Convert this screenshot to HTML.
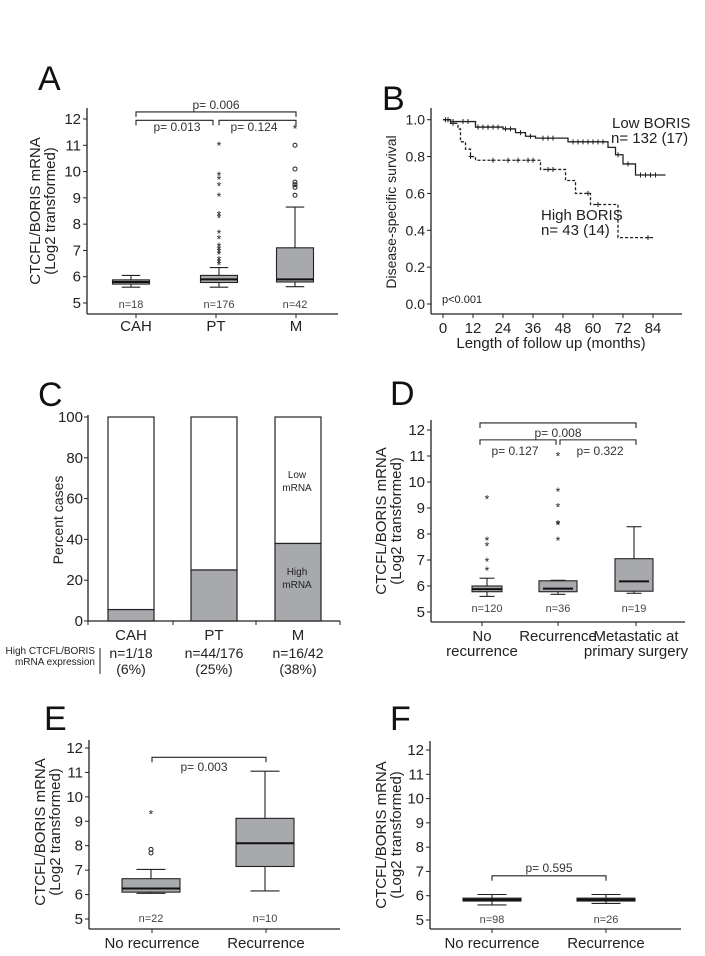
<!DOCTYPE html>
<html><head><meta charset="utf-8"><style>
html,body{margin:0;padding:0;background:#fff;}
svg{display:block;font-family:"Liberation Sans",Arial,sans-serif;}
</style></head><body>
<svg id="fig" width="705" height="956" viewBox="0 0 705 956"></svg>
<script>
// ===== Panel A data =====
const aCats=["CAH","PT","M"];
const aN=["n=18","n=176","n=42"];
const aStats=[[5.6,5.72,5.8,5.88,6.05],[5.6,5.78,5.9,6.05,6.35],[5.62,5.8,5.9,7.1,8.65]];
const aStars=[[],[11.05,9.9,9.75,9.5,9.1,8.4,8.3,7.7,7.5,7.2,7.1,7.0,6.9,6.7,6.6,6.5],[11.7]];
const aCircles=[[],[],[11.0,10.1,9.6,9.5,9.4,9.1]];
// ===== Panel B data =====
const lowT=[0,3,13,24,29,33,37,50,66,69,72,77,89];
const lowS=[1.0,0.99,0.96,0.95,0.93,0.91,0.90,0.88,0.85,0.81,0.76,0.70,0.70];
const highT=[0,3,6,7,9,11,13,39,49,53,59,70,84];
const highS=[1.0,0.98,0.95,0.88,0.84,0.80,0.78,0.73,0.67,0.60,0.54,0.36,0.36];
const lowCens=[1,2,4,8,10,14,16,18,20,22,25,27,31,35,40,42,44,52,54,56,58,60,62,64,70,74,79,81,83,85];
const highCens=[2,4,11,20,26,30,34,36,42,44,58,62,82];
const bXTicks=[0,12,24,36,48,60,72,84];
const bYTicks=[0,0.2,0.4,0.6,0.8,1.0];
// ===== Panel C data =====
const cCats=["CAH","PT","M"];
const cHigh=[5.6,25,38];
const cNLabels=["n=1/18","n=44/176","n=16/42"];
const cPctLabels=["(6%)","(25%)","(38%)"];
const cYTicks=[0,20,40,60,80,100];
// ===== Panel D data =====
const dN=["n=120","n=36","n=19"];
const dStats=[[5.6,5.78,5.88,6.0,6.3],[5.68,5.78,5.9,6.2,6.22],[5.72,5.8,6.18,7.05,8.28]];
const dStars=[[9.4,7.8,7.6,7.0,6.65],[11.05,9.7,9.1,8.45,8.4,7.8],[]];
// ===== Panel E data =====
const eCats=["No recurrence","Recurrence"];
const eN=["n=22","n=10"];
const eStats=[[6.05,6.1,6.25,6.65,7.03],[6.15,7.15,8.1,9.12,11.05]];
const eStars=[[9.35],[]];
const eCircles=[[7.85,7.7],[]];
// ===== Panel F data =====
const fN=["n=98","n=26"];
const fStats=[[5.62,5.78,5.84,5.9,6.05],[5.68,5.78,5.84,5.9,6.05]];
const yTicks=[5,6,7,8,9,10,11,12];

const NS="http://www.w3.org/2000/svg";
const svg=document.getElementById('fig');
function el(tag,attrs,parent){const e=document.createElementNS(NS,tag);for(const k in attrs)e.setAttribute(k,attrs[k]);(parent||svg).appendChild(e);return e;}
function txt(s,x,y,size,anchor,parent,extra){const t=el('text',Object.assign({x:x,y:y,'font-size':size,'text-anchor':anchor||'middle',fill:'#222'},extra||{}),parent);t.textContent=s;return t;}
function grp(name){const g=el('g',{});return g;}

function letter(s,x,y,name){const t=txt(s,x,y,34,'start',svg,{fill:'#111'});}

function yAxisLabel(g,x,yc){
  const t=el('text',{transform:`translate(${x},${yc}) rotate(-90)`,'font-size':15,'text-anchor':'middle',fill:'#222'},g);
  const a=el('tspan',{x:0,dy:0},t);a.textContent='CTCFL/BORIS mRNA';
  const b=el('tspan',{x:0,dy:15},t);b.textContent='(Log2 transformed)';
  
}

function boxPanel(o){
  const g=grp(o.name);
  const y=v=>o.y5-(v-5)*(o.y5-o.y12)/7;
  el('line',{x1:o.ax,y1:o.axTop,x2:o.ax,y2:o.axY,stroke:'#222','stroke-width':1.3},g);
  el('line',{x1:o.ax,y1:o.axY,x2:o.axR,y2:o.axY,stroke:'#222','stroke-width':1.3},g);
  yTicks.forEach(v=>{el('line',{x1:o.ax-4,y1:y(v),x2:o.ax,y2:y(v),stroke:'#222'},g);
    const t=txt(String(v),o.ax-6,y(v)+5,15,'end',g);});
  o.xs.forEach((cx,i)=>{
    el('line',{x1:cx,y1:o.axY,x2:cx,y2:o.axY+4,stroke:'#222'},g);
    const s=o.stats[i],bx=o.bx[i],w=o.bw;
    const bg=grp('box-'+(i+1));g.appendChild(bg);
    el('line',{x1:bx,y1:y(s[0]),x2:bx,y2:y(s[4]),stroke:'#222','stroke-width':1.1},bg);
    el('line',{x1:bx-w/4,y1:y(s[0]),x2:bx+w/4,y2:y(s[0]),stroke:'#222','stroke-width':1.1},bg);
    el('line',{x1:bx-w/4,y1:y(s[4]),x2:bx+w/4,y2:y(s[4]),stroke:'#222','stroke-width':1.1},bg);
    el('rect',{x:bx-w/2,y:y(s[3]),width:w,height:Math.max(1,y(s[1])-y(s[3])),fill:'#a7a9ac',stroke:'#222','stroke-width':1.1},bg);
    el('line',{x1:bx-w/2,y1:y(s[2]),x2:bx+w/2,y2:y(s[2]),stroke:'#111','stroke-width':2},bg);
    (o.stars&&o.stars[i]||[]).forEach(v=>{const t=txt('*',bx,y(v)+6,12,'middle',bg,{fill:'#222'});});
    (o.circles&&o.circles[i]||[]).forEach(v=>{el('circle',{cx:bx,cy:y(v),r:2,fill:'none',stroke:'#222','stroke-width':1},bg);});
    const nt=txt(o.n[i],bx,o.nY,11,'middle',g,{fill:'#444'});
  });
  (o.brackets||[]).forEach(b=>{
    const by=y(b.v);
    el('path',{d:`M${b.x1},${by+5}V${by}H${b.x2}V${by+5}`,fill:'none',stroke:'#222','stroke-width':1.1},g);
    const t=txt(b.label,b.tx,b.ty,12,'middle',g,{fill:'#333'});
  });
  return {g,y};
}

// ---- Panel A ----
letter('A',38,90,'panel-a-label');
let A=boxPanel({name:'panel-a',ax:87,axTop:108,axY:314,axR:338,y5:303,y12:119,xs:[136,216,296],bx:[131,219,295],bw:37,
  stats:aStats,stars:aStars,circles:aCircles,n:aN,nY:308,
  brackets:[{v:12.27,x1:136,x2:296,label:'p= 0.006',tx:216,ty:109},{v:11.95,x1:136,x2:213,label:'p= 0.013',tx:177,ty:131},{v:11.95,x1:219,x2:296,label:'p= 0.124',tx:254,ty:131}]});
yAxisLabel(A.g,40,211);
aCats.forEach((c,i)=>{const t=txt(c,[136,216,296][i],331,15,'middle',A.g);});

// ---- Panel B ----
letter('B',382,110,'panel-b-label');
(function(){
  const g=grp('panel-b');
  const x=m=>443+m*2.5, y=s=>304-s*184.3;
  el('line',{x1:431,y1:108,x2:431,y2:314,stroke:'#222','stroke-width':1.3},g);
  el('line',{x1:431,y1:314,x2:682,y2:314,stroke:'#222','stroke-width':1.3},g);
  bYTicks.forEach(v=>{el('line',{x1:427,y1:y(v),x2:431,y2:y(v),stroke:'#222'},g);
    const t=txt(v.toFixed(1),425,y(v)+5,14,'end',g);});
  bXTicks.forEach(v=>{el('line',{x1:x(v),y1:314,x2:x(v),y2:318,stroke:'#222'},g);
    const t=txt(String(v),x(v),333,15,'middle',g);});
  const yt=el('text',{transform:'translate(396,212) rotate(-90)','font-size':14,'text-anchor':'middle',fill:'#222'},g);yt.textContent='Disease-specific survival';
  
  const xt=txt('Length of follow up (months)',551,348,15,'middle',g);
  function stepPath(T,S){let d=`M${x(T[0])},${y(S[0])}`;for(let i=1;i<T.length;i++){d+=`H${x(T[i])}V${y(S[i])}`;}return d;}
  function survAt(T,S,m){let s=S[0];for(let i=0;i<T.length;i++)if(T[i]<=m)s=S[i];return s;}
  const lp=el('path',{d:stepPath(lowT,lowS),fill:'none',stroke:'#222','stroke-width':1.3},g);
  
  const hp=el('path',{d:stepPath(highT,highS),fill:'none',stroke:'#222','stroke-width':1.3,'stroke-dasharray':'3,2'},g);
  
  lowCens.forEach(m=>{const s=survAt(lowT,lowS,m);el('path',{d:`M${x(m)},${y(s)-2.5}v5M${x(m)-2},${y(s)}h4`,stroke:'#222','stroke-width':1},g);});
  highCens.forEach(m=>{const s=survAt(highT,highS,m);el('path',{d:`M${x(m)},${y(s)-2.5}v5M${x(m)-2},${y(s)}h4`,stroke:'#222','stroke-width':1},g);});
  [['Low BORIS',612,128],['n= 132 (17)',611,143],['High BORIS',541,220],['n= 43 (14)',541,235]].forEach(a=>{const t=txt(a[0],a[1],a[2],15,'start',g);});
  const p=txt('p<0.001',442,303,11,'start',g);
})();

// ---- Panel C ----
letter('C',38,406,'panel-c-label');
(function(){
  const g=grp('panel-c');
  const y=v=>621-v*2.04;
  const bx=[108,191,275],bw=46;
  el('line',{x1:88,y1:415,x2:88,y2:621,stroke:'#222','stroke-width':1.3},g);
  el('line',{x1:88,y1:621,x2:340,y2:621,stroke:'#222','stroke-width':1.3},g);
  [88,173,256,340].forEach(xx=>el('line',{x1:xx,y1:621,x2:xx,y2:625,stroke:'#222'},g));
  cYTicks.forEach(v=>{el('line',{x1:84,y1:y(v),x2:88,y2:y(v),stroke:'#222'},g);
    const t=txt(String(v),83,y(v)+5,15,'end',g);});
  const yt=el('text',{transform:'translate(63,520) rotate(-90)','font-size':14,'text-anchor':'middle',fill:'#222'},g);yt.textContent='Percent cases';
  
  cCats.forEach((c,i)=>{
    const w=el('rect',{x:bx[i],y:y(100),width:bw,height:y(cHigh[i])-y(100),fill:'#fff',stroke:'#222','stroke-width':1.2},g);
    
    const h=el('rect',{x:bx[i],y:y(cHigh[i]),width:bw,height:y(0)-y(cHigh[i]),fill:'#a7a9ac',stroke:'#222','stroke-width':1.2},g);
    
    const cx=bx[i]+bw/2;
    const t=txt(c,cx,640,15,'middle',g);
    const n=txt(cNLabels[i],cx,658,14,'middle',g);
    const p=txt(cPctLabels[i],cx,674,14,'middle',g);
  });
  [['Low',297,478],['mRNA',297,491],['High',297,575],['mRNA',297,588]].forEach(a=>{const t=txt(a[0],a[1],a[2],10,'middle',g);});
  const l1=txt('High CTCFL/BORIS',95,654,10,'end',g);
  const l2=txt('mRNA expression',95,665,10,'end',g);
  el('line',{x1:100,y1:648,x2:100,y2:674,stroke:'#222','stroke-width':1},g);
})();

// ---- Panel D ----
letter('D',390,405,'panel-d-label');
let D=boxPanel({name:'panel-d',ax:431,axTop:420,axY:622,axR:685,y5:612,y12:430,xs:[482,558,636],bx:[487,558,634],bw:30,
  stats:dStats,stars:dStars,n:dN,nY:612,
  brackets:[{v:12.27,x1:480,x2:636,label:'p= 0.008',tx:558,ty:437},{v:11.62,x1:480,x2:556,label:'p= 0.127',tx:515,ty:455},{v:11.62,x1:560,x2:636,label:'p= 0.322',tx:600,ty:455}]});
D.g.querySelectorAll('rect')[1].setAttribute('width',38);D.g.querySelectorAll('rect')[1].setAttribute('x',539);
D.g.querySelectorAll('rect')[2].setAttribute('width',38);D.g.querySelectorAll('rect')[2].setAttribute('x',615);
yAxisLabel(D.g,386,521);
[['No',482,641],['recurrence',482,656],['Recurrence',558,641],['Metastatic at',636,641],['primary surgery',636,656]].forEach(a=>{const t=txt(a[0],a[1],a[2],15,'middle',D.g);});

// ---- Panel E ----
letter('E',44,730,'panel-e-label');
let E=boxPanel({name:'panel-e',ax:89,axTop:740,axY:929,axR:340,y5:919,y12:748,xs:[152,266],bx:[151,265],bw:58,
  stats:eStats,stars:eStars,circles:eCircles,n:eN,nY:922,
  brackets:[{v:11.62,x1:152,x2:266,label:'p= 0.003',tx:204,ty:771}]});
yAxisLabel(E.g,45,832);
eCats.forEach((c,i)=>{const t=txt(c,[152,266][i],948,15,'middle',E.g);});

// ---- Panel F ----
letter('F',390,730,'panel-f-label');
let F=boxPanel({name:'panel-f',ax:430,axTop:741,axY:929,axR:681,y5:920,y12:750,xs:[492,606],bx:[492,606],bw:58,
  stats:fStats,n:fN,nY:923,
  brackets:[{v:6.82,x1:492,x2:606,label:'p= 0.595',tx:549,ty:872}]});
yAxisLabel(F.g,386,835);
eCats.forEach((c,i)=>{const t=txt(c,[492,606][i],948,15,'middle',F.g);});
</script>
</body></html>
